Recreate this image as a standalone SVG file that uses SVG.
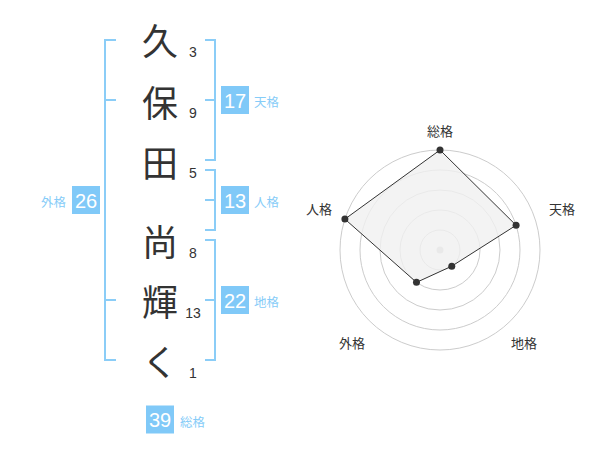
<svg xmlns="http://www.w3.org/2000/svg" width="600" height="470" viewBox="0 0 600 470">
<style>
.ch{font-family:"Noto Sans CJK JP","Noto Sans CJK SC",sans-serif;font-size:36px;fill:#333;text-anchor:middle;dominant-baseline:central}
.st{font-family:"Liberation Sans",Arial,sans-serif;font-size:14px;fill:#333;text-anchor:middle;dominant-baseline:central}
.br{fill:none;stroke:#8bcdf7;stroke-width:2}
.bx{fill:#80c9f8}
.bn{font-family:"Liberation Sans",Arial,sans-serif;font-size:20px;fill:#fff;text-anchor:middle;dominant-baseline:central}
.bl{font-family:"Noto Sans CJK JP","Noto Sans CJK SC",sans-serif;font-size:12.5px;fill:#86ccf8;dominant-baseline:central}
.ring{fill:none;stroke:#ccc;stroke-width:1}
.rl{font-family:"Noto Sans CJK JP","Noto Sans CJK SC",sans-serif;font-size:13px;fill:#333;text-anchor:middle;dominant-baseline:central}
.pt{fill:#333}
</style>
<rect width="600" height="470" fill="#fff"/>
<g id="chars">
<text class="ch" x="160" y="39">久</text>
<text class="ch" x="160" y="101">保</text>
<text class="ch" x="160" y="161">田</text>
<text class="ch" x="160" y="240">尚</text>
<text class="ch" x="160" y="300">輝</text>
<text class="ch" x="160" y="360">く</text>
</g>
<g id="strokes">
<text class="st" x="193" y="52">3</text>
<text class="st" x="193" y="113">9</text>
<text class="st" x="193" y="173">5</text>
<text class="st" x="193" y="253">8</text>
<text class="st" x="193" y="313">13</text>
<text class="st" x="193" y="373">1</text>
</g>
<g id="connectors">
<path class="br" d="M116,40 H105 V360 H116 M105,100 H116 M105,300 H116"/>
<path class="br" d="M205,40 H215 V160 H205 M215,100 H205"/>
<path class="br" d="M205,170 H215 V230 H205 M215,200 H205"/>
<path class="br" d="M205,240 H215 V360 H205 M215,300 H205"/>
</g>
<g id="tenkaku">
<rect class="bx" x="221" y="86" width="28" height="28"/>
<text class="bn" x="235" y="100.5">17</text>
<text class="bl" x="254" y="101">天格</text>
</g>
<g id="jinkaku">
<rect class="bx" x="221" y="186" width="28" height="28"/>
<text class="bn" x="235" y="200.5">13</text>
<text class="bl" x="254" y="201">人格</text>
</g>
<g id="chikaku">
<rect class="bx" x="221" y="286" width="28" height="28"/>
<text class="bn" x="235" y="300.5">22</text>
<text class="bl" x="254" y="301">地格</text>
</g>
<g id="gaikaku">
<rect class="bx" x="72" y="186" width="28" height="28"/>
<text class="bn" x="86" y="200.5">26</text>
<text class="bl" x="66" y="201" text-anchor="end">外格</text>
</g>
<g id="soukaku">
<rect class="bx" x="146" y="405.5" width="28" height="28"/>
<text class="bn" x="160" y="420">39</text>
<text class="bl" x="180" y="421">総格</text>
</g>
<g id="radar">
<circle class="ring" cx="440" cy="250" r="20"/>
<circle class="ring" cx="440" cy="250" r="40"/>
<circle class="ring" cx="440" cy="250" r="60"/>
<circle class="ring" cx="440" cy="250" r="80"/>
<circle class="ring" cx="440" cy="250" r="100"/>
<circle cx="440" cy="250" r="3.5" fill="#ccc"/>
<polygon points="440,150 516.09,225.28 451.76,266.18 416.49,282.36 344.89,219.1" fill="#f0f0f0" fill-opacity="0.8" stroke="#333" stroke-width="1"/>
<circle class="pt" cx="440" cy="150" r="3.5"/>
<circle class="pt" cx="516.09" cy="225.28" r="3.5"/>
<circle class="pt" cx="451.76" cy="266.18" r="3.5"/>
<circle class="pt" cx="416.49" cy="282.36" r="3.5"/>
<circle class="pt" cx="344.89" cy="219.1" r="3.5"/>
<text class="rl" x="440" y="130">総格</text>
<text class="rl" x="562" y="208">天格</text>
<text class="rl" x="319" y="208">人格</text>
<text class="rl" x="352" y="342">外格</text>
<text class="rl" x="524" y="342">地格</text>
</g>
</svg>
